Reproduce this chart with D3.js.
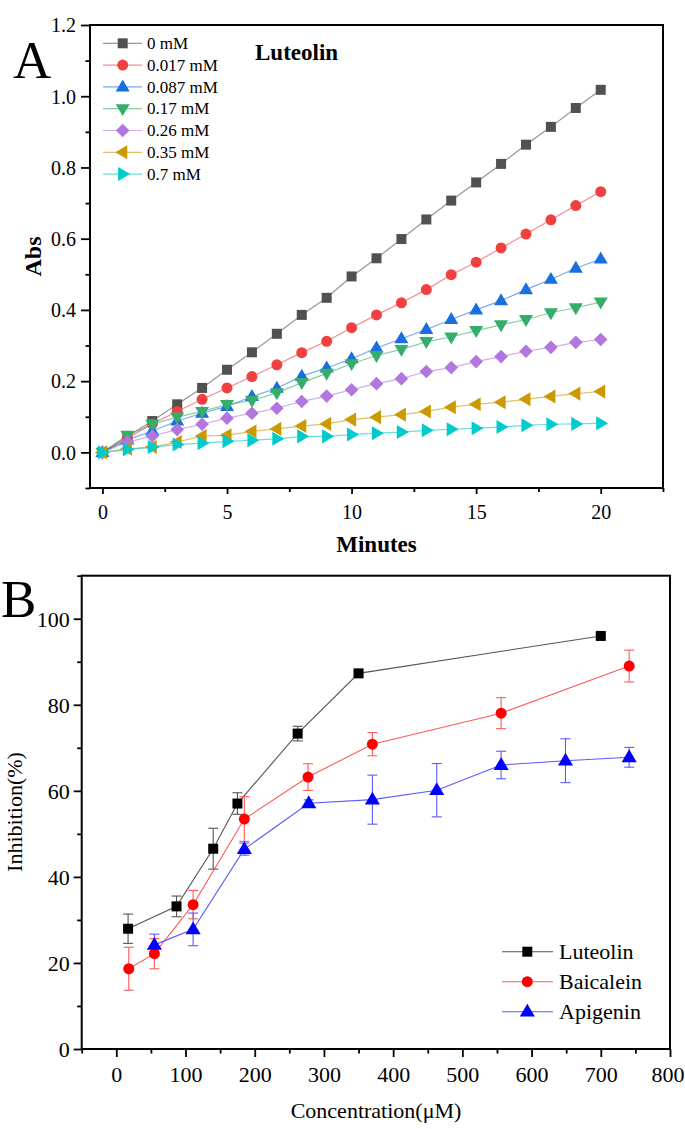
<!DOCTYPE html>
<html><head><meta charset="utf-8">
<script src="https://cdn.jsdelivr.net/npm/d3@7"></script>
<style>
body{margin:0;background:#fff}
svg{display:block}
text{font-family:"Liberation Serif","Times New Roman",serif;fill:#000}
</style>
</head><body>
<svg id="c" width="685" height="1129"></svg>
<script>
// ---------- Panel A data ----------
const minutes = [0,1,2,3,4,5,6,7,8,9,10,11,12,13,14,15,16,17,18,19,20];
const concLabelsA = ["0 mM","0.017 mM","0.087 mM","0.17 mM","0.26 mM","0.35 mM","0.7 mM"];
const abs0mM   = [0,0.045,0.088,0.135,0.181,0.232,0.281,0.333,0.386,0.434,0.494,0.545,0.599,0.654,0.707,0.758,0.810,0.864,0.914,0.967,1.018];
const abs017mM = [0,0.040,0.080,0.115,0.149,0.181,0.213,0.246,0.280,0.312,0.350,0.386,0.420,0.457,0.499,0.534,0.574,0.613,0.653,0.693,0.732];
const abs087mM = [0,0.035,0.060,0.088,0.110,0.129,0.157,0.180,0.214,0.237,0.263,0.293,0.319,0.345,0.373,0.400,0.426,0.457,0.486,0.517,0.543];
const abs17mM  = [0,0.048,0.079,0.099,0.115,0.134,0.146,0.167,0.196,0.222,0.249,0.272,0.289,0.311,0.324,0.342,0.358,0.373,0.392,0.406,0.422];
const abs26mM  = [0,0.029,0.046,0.064,0.079,0.096,0.110,0.124,0.143,0.158,0.176,0.193,0.207,0.227,0.238,0.255,0.269,0.284,0.295,0.309,0.317];
const abs35mM  = [0,0.010,0.015,0.029,0.046,0.048,0.059,0.066,0.074,0.080,0.092,0.099,0.106,0.115,0.127,0.135,0.141,0.149,0.157,0.165,0.171];
const abs7mM   = [0,0.008,0.015,0.022,0.026,0.031,0.034,0.038,0.045,0.045,0.050,0.054,0.057,0.062,0.065,0.068,0.071,0.076,0.079,0.080,0.082];
const seriesA = [abs0mM,abs017mM,abs087mM,abs17mM,abs26mM,abs35mM,abs7mM];
const xTicksA = [0,5,10,15,20];
const xMinorA = [2.5,7.5,12.5,17.5,22.5];
const yTicksA = [0,0.2,0.4,0.6,0.8,1.0,1.2];
const yMinorA = [-0.1,0.1,0.3,0.5,0.7,0.9,1.1];
const colorsA = ["#515151","#F14040","#1A6FDF","#37AD6B","#B177DE","#CC9900","#00CBCC"];
const shapesA = ["square","circle","triUp","triDown","diamond","triLeft","triRight"];

// ---------- Panel B data ----------
const compounds = ["Luteolin","Baicalein","Apigenin"];
const lutConc = [17,87,140,175,262,350,700];
const lutInh  = [27.95,33.15,46.55,57.05,73.3,87.3,96.0];
const lutErr  = [3.4,2.4,4.75,2.5,1.7,0.5,0.4];
const baiConc = [18,55,111,185,277,370,556,741];
const baiInh  = [18.65,22.15,33.55,53.45,63.2,70.85,78.05,89.0];
const baiErr  = [5.0,3.5,3.3,5.2,3.1,2.7,3.6,3.7];
const apiConc = [55,111,185,278,370,463,556,649,741];
const apiInh  = [24.2,27.8,46.45,57.1,57.95,60.15,66.0,67.0,67.8];
const apiErr  = [2.5,3.8,1.4,0.8,5.7,6.2,3.2,5.1,2.3];
const xTicksB = [0,100,200,300,400,500,600,700,800];
const xMinorB = [-50,50,150,250,350,450,550,650,750];
const yTicksB = [0,20,40,60,80,100];
const yMinorB = [10,30,50,70,90,110];
const colorsB = ["#000000","#FF0000","#0000FF"];
const lineColorsB = ["#555555","#FF5A5A","#5A5AFF"];
const shapesB = ["square","circle","triUp"];

// ---------- helpers ----------
function shapePath(type, s){
  let h=s/2;
  switch(type){
    case "square": return `M${-h},${-h}H${h}V${h}H${-h}Z`;
    case "circle": return `M${h},0A${h},${h} 0 1,1 ${-h},0A${h},${h} 0 1,1 ${h},0Z`;
    case "diamond": { const d=s*0.62; return `M0,${-d}L${d},0L0,${d}L${-d},0Z`; }
    case "triUp": { const w=s*0.54, t=s*0.92; return `M0,${-t*0.62}L${w},${t*0.38}L${-w},${t*0.38}Z`; }
    case "triDown": { const w=s*0.54, t=s*0.92; return `M0,${t*0.62}L${w},${-t*0.38}L${-w},${-t*0.38}Z`; }
    case "triLeft": { const w=s*0.54, t=s*0.92; return `M${-t*0.62},0L${t*0.38},${w}L${t*0.38},${-w}Z`; }
    case "triRight": { const w=s*0.54, t=s*0.92; return `M${t*0.62},0L${-t*0.38},${w}L${-t*0.38},${-w}Z`; }
  }
}
const svg = d3.select("#c");

// ================= Panel A =================
const xA = d3.scaleLinear().domain([-0.5,22.5]).range([90,663]);
const yA = d3.scaleLinear().domain([-0.1,1.2]).range([488,25]);
const gA = svg.append("g");

function styleAxis(g, fs){
  g.select(".domain").remove();
  g.selectAll(".tick line").attr("stroke","#000").attr("stroke-width",1.8);
  g.selectAll("text").attr("font-size",fs).attr("font-family","Liberation Serif").attr("fill","#000");
}
// x axis A
const xAxA = gA.append("g").attr("transform","translate(0,488)")
  .call(d3.axisBottom(xA).tickValues(xTicksA).tickSize(6).tickSizeOuter(0));
styleAxis(xAxA,20);
xAxA.selectAll("text").attr("y",31).attr("dy",null);
const xMinA = gA.append("g").attr("transform","translate(0,488)")
  .call(d3.axisBottom(xA).tickValues(xMinorA).tickSize(4).tickFormat(""));
styleAxis(xMinA,20);
// y axis A
const yAxA = gA.append("g").attr("transform","translate(90,0)")
  .call(d3.axisLeft(yA).tickValues(yTicksA).tickFormat(d3.format(".1f")).tickSize(9).tickSizeOuter(0));
styleAxis(yAxA,20);
yAxA.selectAll("text").attr("x",-14).attr("dy","0.34em");
const yMinA = gA.append("g").attr("transform","translate(90,0)")
  .call(d3.axisLeft(yA).tickValues(yMinorA).tickSize(4.5).tickFormat(""));
styleAxis(yMinA,20);
// frame
gA.append("rect").attr("x",90).attr("y",25).attr("width",573).attr("height",463)
  .attr("fill","none").attr("stroke","#000").attr("stroke-width",2);

// series A
const lineA = d3.line().x((d,i)=>xA(minutes[i])).y(d=>yA(d));
seriesA.forEach((vals,k)=>{
  gA.append("path").attr("d",lineA(vals)).attr("fill","none")
    .attr("stroke",colorsA[k]).attr("stroke-opacity",0.6).attr("stroke-width",1.2);
});
seriesA.forEach((vals,k)=>{
  const sz = shapesA[k]==="square"?10:(shapesA[k]==="circle"?11:(shapesA[k]==="diamond"?11:13));
  gA.append("g").selectAll("path").data(vals).join("path")
    .attr("transform",(d,i)=>`translate(${xA(minutes[i])},${yA(d)})`)
    .attr("d",shapePath(shapesA[k],sz)).attr("fill",colorsA[k]);
});
// legend A
concLabelsA.forEach((lab,k)=>{
  const y = 43.3 + 21.8*k;
  gA.append("line").attr("x1",103).attr("x2",142).attr("y1",y).attr("y2",y)
    .attr("stroke",colorsA[k]).attr("stroke-opacity",0.6).attr("stroke-width",1.2);
  const sz = shapesA[k]==="square"?10:(shapesA[k]==="circle"?11:(shapesA[k]==="diamond"?11:13));
  gA.append("path").attr("transform",`translate(122.7,${y})`).attr("d",shapePath(shapesA[k],sz)).attr("fill",colorsA[k]);
  gA.append("text").attr("x",147).attr("y",y).attr("dy","0.34em").attr("font-size",17).text(lab);
});
gA.append("text").attr("x",255).attr("y",60).attr("font-size",23).attr("font-weight","bold").text("Luteolin");
gA.append("text").attr("x",376.5).attr("y",552).attr("text-anchor","middle").attr("font-size",23).attr("font-weight","bold").text("Minutes");
gA.append("text").attr("transform","translate(41,256.5) rotate(-90)").attr("text-anchor","middle").attr("font-size",24).attr("font-weight","bold").text("Abs");
gA.append("text").attr("x",13).attr("y",78).attr("font-size",53).text("A");

// ================= Panel B =================
const xB = d3.scaleLinear().domain([-50,800]).range([81.7,670]);
const yB = d3.scaleLinear().domain([0,110]).range([1049,575.7]);
const gB = svg.append("g");
const xAxB = gB.append("g").attr("transform","translate(0,1049)")
  .call(d3.axisBottom(xB).tickValues(xTicksB).tickSize(8).tickSizeOuter(0));
styleAxis(xAxB,22);
xAxB.selectAll("text").attr("y",33).attr("dy",null);
// keep the last label inside the page
xAxB.selectAll(".tick").filter(d=>d===800).select("text").attr("text-anchor","end").attr("x",14);
const xMinB = gB.append("g").attr("transform","translate(0,1049)")
  .call(d3.axisBottom(xB).tickValues(xMinorB).tickSize(4.5).tickFormat(""));
styleAxis(xMinB,22);
const yAxB = gB.append("g").attr("transform","translate(81.7,0)")
  .call(d3.axisLeft(yB).tickValues(yTicksB).tickSize(8).tickSizeOuter(0));
styleAxis(yAxB,22);
yAxB.selectAll("text").attr("x",-12).attr("dy","0.34em");
const yMinB = gB.append("g").attr("transform","translate(81.7,0)")
  .call(d3.axisLeft(yB).tickValues(yMinorB).tickSize(4.5).tickFormat(""));
styleAxis(yMinB,22);
gB.append("rect").attr("x",81.7).attr("y",575.7).attr("width",670-81.7).attr("height",1049-575.7)
  .attr("fill","none").attr("stroke","#000").attr("stroke-width",2);

const seriesB = [
  {x:lutConc,y:lutInh,e:lutErr},
  {x:baiConc,y:baiInh,e:baiErr},
  {x:apiConc,y:apiInh,e:apiErr}
];
seriesB.forEach((s,k)=>{
  const pts = s.x.map((xv,i)=>({x:xv,y:s.y[i],e:s.e[i]}));
  const eg = gB.append("g").attr("stroke",lineColorsB[k]).attr("stroke-width",1.1).attr("fill","none");
  pts.forEach(p=>{
    const cx=xB(p.x), y1=yB(p.y+p.e), y2=yB(p.y-p.e);
    eg.append("line").attr("x1",cx).attr("x2",cx).attr("y1",y1).attr("y2",y2);
    eg.append("line").attr("x1",cx-5).attr("x2",cx+5).attr("y1",y1).attr("y2",y1);
    eg.append("line").attr("x1",cx-5).attr("x2",cx+5).attr("y1",y2).attr("y2",y2);
  });
  gB.append("path").attr("d",d3.line().x(p=>xB(p.x)).y(p=>yB(p.y))(pts))
    .attr("fill","none").attr("stroke",lineColorsB[k]).attr("stroke-width",1.1);
});
seriesB.forEach((s,k)=>{
  const sz = shapesB[k]==="square"?10:(shapesB[k]==="circle"?11:14);
  gB.append("g").selectAll("path").data(s.x).join("path")
    .attr("transform",(d,i)=>`translate(${xB(d)},${yB(s.y[i])})`)
    .attr("d",shapePath(shapesB[k],sz)).attr("fill",colorsB[k]);
});
compounds.forEach((lab,k)=>{
  const y = 951.7 + 30*k;
  gB.append("line").attr("x1",502).attr("x2",553).attr("y1",y).attr("y2",y)
    .attr("stroke",lineColorsB[k]).attr("stroke-width",1.1);
  const sz = shapesB[k]==="square"?10:(shapesB[k]==="circle"?11:14);
  gB.append("path").attr("transform",`translate(527.3,${y})`).attr("d",shapePath(shapesB[k],sz)).attr("fill",colorsB[k]);
  gB.append("text").attr("x",559).attr("y",y).attr("dy","0.34em").attr("font-size",22).text(lab);
});
gB.append("text").attr("x",376).attr("y",1118).attr("text-anchor","middle").attr("font-size",22).text("Concentration(μM)");
gB.append("text").attr("transform","translate(22,812) rotate(-90)").attr("text-anchor","middle").attr("font-size",22).text("Inhibition(%)");
gB.append("text").attr("x",1).attr("y",617).attr("font-size",53).text("B");
</script>
</body></html>
